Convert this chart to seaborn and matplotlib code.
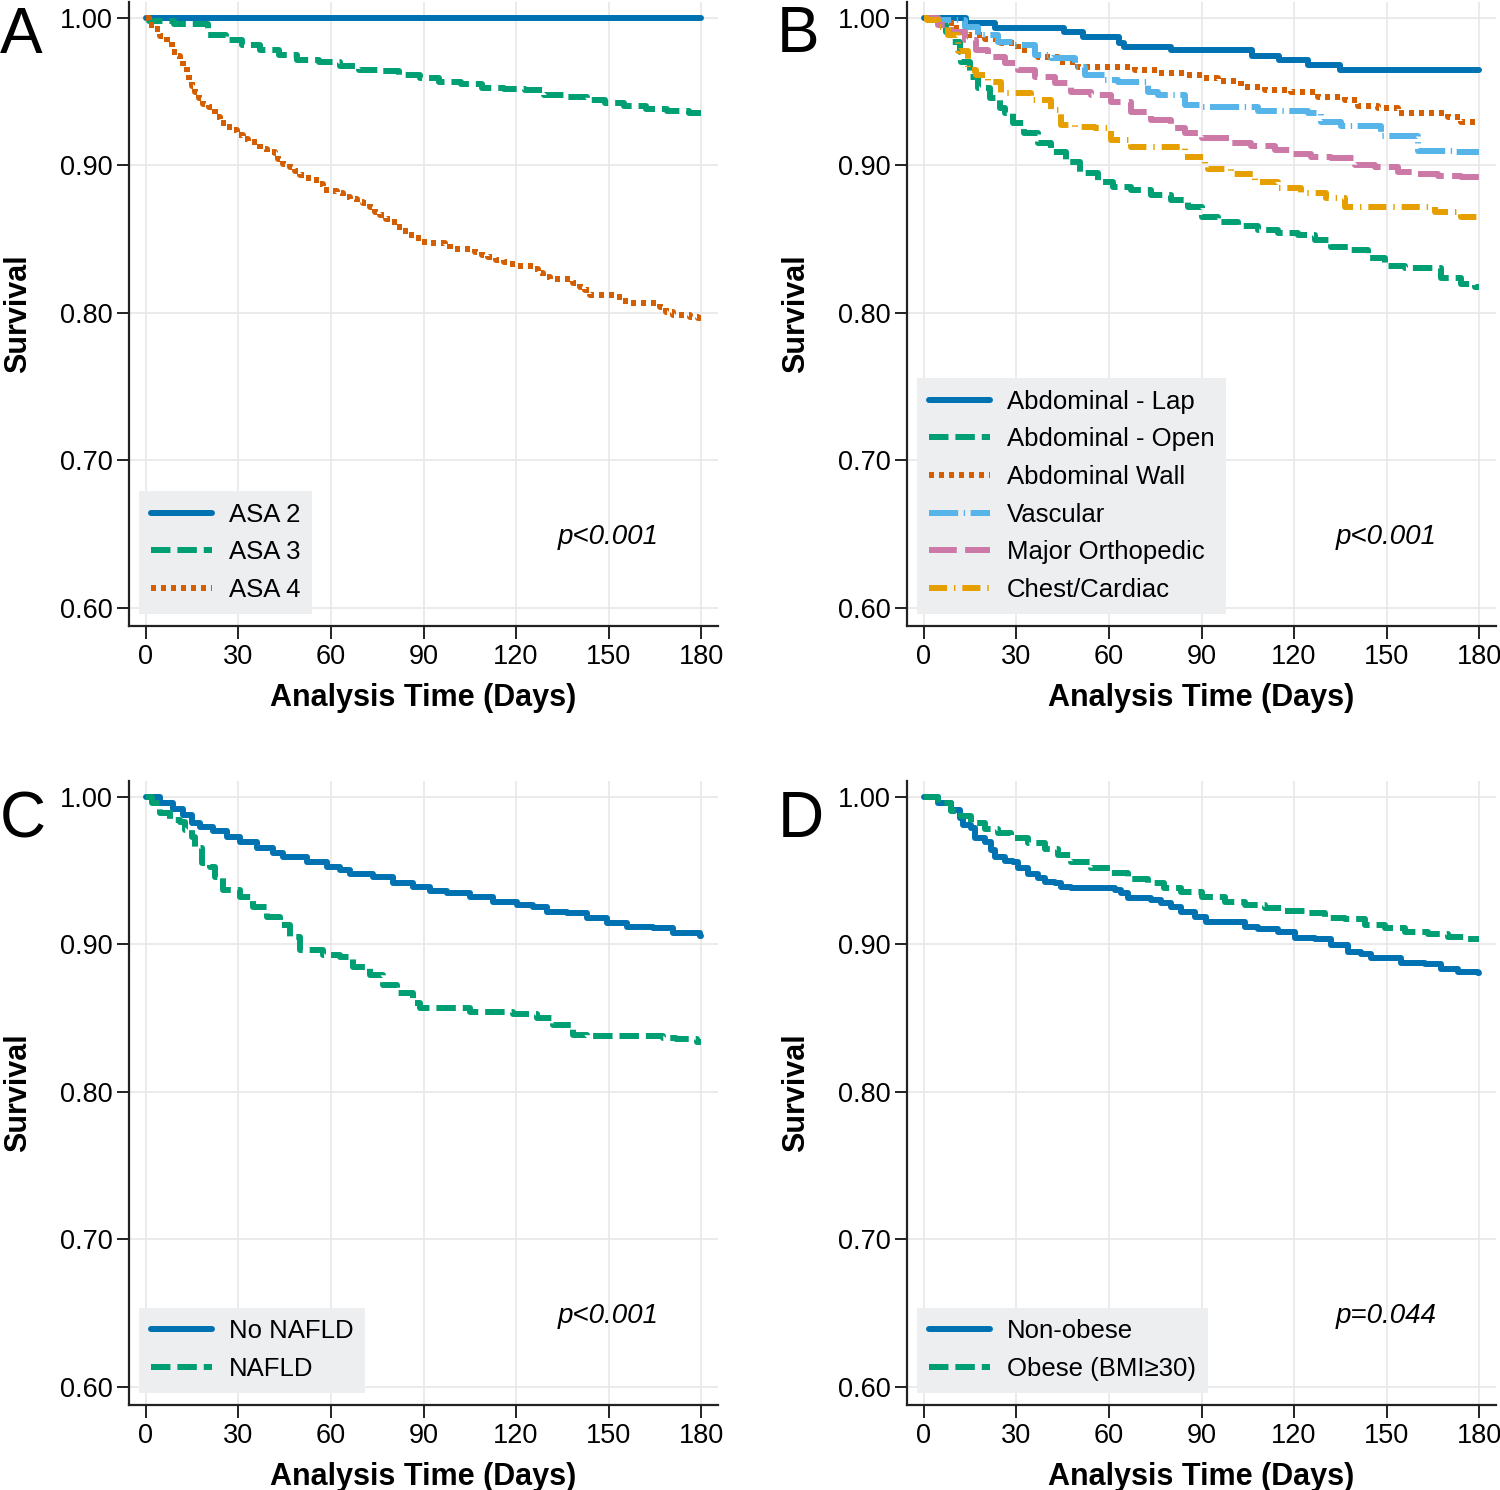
"""Kaplan-Meier survival curves, four panels (A-D)"""

import matplotlib
matplotlib.use("Agg")
import pandas as pd
import seaborn as sns
from matplotlib import pyplot as plt

# ---- data: (day, survival) ----
asa2 = [(0, 1.0), (180, 1.0)]
asa3 = [(0, 1.0), (1, 0.998), (9, 0.996), (20, 0.9885), (26, 0.985), (31, 0.9817), (37, 0.978),
        (43, 0.975), (49, 0.9715), (56, 0.970), (63, 0.9677), (69, 0.9645), (76, 0.964), (82, 0.961),
        (89, 0.959), (95, 0.9568), (102, 0.9553), (109, 0.9525), (116, 0.952), (123, 0.951),
        (129, 0.948), (136, 0.9462), (143, 0.9444), (149, 0.942), (155, 0.940), (162, 0.938),
        (169, 0.937), (176, 0.9358), (180, 0.9355)]
asa4 = [(0, 1.0), (1, 0.995), (3, 0.9925), (4.5, 0.988), (6.7, 0.9835), (8.3, 0.977), (10, 0.9745),
        (11, 0.971), (12, 0.9666), (13.2, 0.9625), (14, 0.958), (15, 0.954), (16, 0.9496),
        (17.3, 0.9456), (18.6, 0.9417), (20.4, 0.9395), (22.4, 0.933), (24, 0.9286), (26.2, 0.926),
        (28.1, 0.924), (29.6, 0.9207), (31.6, 0.918), (33.2, 0.9157), (35.9, 0.9144), (37, 0.911),
        (39.1, 0.9094), (41.8, 0.9083), (42.9, 0.9044), (44.5, 0.901), (46.7, 0.8992), (48.3, 0.8963),
        (50, 0.8936), (51.6, 0.8913), (54.3, 0.890), (56, 0.8875), (57.3, 0.8834), (60.2, 0.8827),
        (62, 0.8811), (64, 0.8784), (66.2, 0.8773), (68.3, 0.8755), (70.5, 0.8744), (72.6, 0.8716),
        (74.3, 0.8687), (76, 0.8664), (77.8, 0.8637), (79.7, 0.8615), (81.3, 0.8585), (83, 0.8556),
        (85, 0.853), (87.2, 0.8506), (89.2, 0.8483), (91.5, 0.8472), (97, 0.8465), (98.6, 0.8434),
        (106.7, 0.8411), (109, 0.8393), (111, 0.8377), (113.5, 0.836), (116, 0.8344), (118, 0.8332),
        (120.2, 0.8319), (125.6, 0.8298), (127.2, 0.827), (128.8, 0.8246), (131, 0.8228),
        (138.6, 0.82), (140.8, 0.8178), (142.4, 0.8156), (144, 0.8122), (152, 0.8106),
        (154.3, 0.8083), (156.4, 0.8065), (166.7, 0.8043), (168.6, 0.8005), (171, 0.7986),
        (176.4, 0.7975), (179.1, 0.7964), (180, 0.7964)]

abd_lap = [(0, 1.0), (13.5, 0.9964), (23, 0.993), (45.5, 0.9907), (51.5, 0.9873), (63.4, 0.9828),
           (65, 0.9806), (80, 0.978), (106.5, 0.9745), (115, 0.9715), (124.5, 0.968),
           (135, 0.9647), (180, 0.9647)]
abd_open = [(0, 1.0), (4.5, 0.9953), (7.2, 0.9907), (8.9, 0.984), (11.6, 0.9772), (12.1, 0.970),
            (14.8, 0.960), (17.5, 0.9523), (21.3, 0.9456), (24.5, 0.939), (26.2, 0.9354),
            (28.9, 0.9286), (32.6, 0.9218), (37, 0.915), (41.3, 0.9094), (46.2, 0.9026),
            (50.5, 0.8947), (56.4, 0.889), (61.3, 0.8856), (67.2, 0.8834), (73.7, 0.88),
            (80.2, 0.8766), (85.6, 0.872), (90, 0.8653), (95.3, 0.862), (101.8, 0.859),
            (108.3, 0.8563), (114.8, 0.8545), (121.3, 0.853), (126.7, 0.8495), (132.1, 0.8445),
            (138.6, 0.8427), (144, 0.837), (149.4, 0.8319), (155.9, 0.8303), (167.8, 0.8235),
            (174.3, 0.8197), (178.6, 0.8178), (180, 0.8178)]
abd_wall = [(0, 1.0), (4.5, 0.9964), (9.9, 0.993), (14.3, 0.9885), (19.7, 0.9855), (25.1, 0.9828),
            (30.5, 0.9783), (37, 0.9738), (43.5, 0.9704), (50, 0.967), (58.6, 0.9666),
            (68.3, 0.9647), (75.9, 0.9625), (84.5, 0.9614), (90, 0.9591), (95.3, 0.9575),
            (102.9, 0.9534), (110.5, 0.9512), (119.1, 0.95), (127.8, 0.9462), (136.4, 0.9444),
            (140.8, 0.9405), (147.2, 0.9388), (153.7, 0.9358), (170, 0.9331), (174.3, 0.9297),
            (178.6, 0.9286), (180, 0.9286)]
vascular = [(0, 1.0), (4.5, 0.9986), (13.2, 0.9941), (17.5, 0.9885), (24, 0.984), (29.4, 0.9817),
            (35.9, 0.9749), (41.3, 0.9727), (48.9, 0.967), (52.1, 0.9614), (58.6, 0.958),
            (63, 0.9568), (72.6, 0.95), (75.9, 0.9478), (84.5, 0.941), (90, 0.9395),
            (108.3, 0.9372), (124.5, 0.9354), (128.9, 0.9297), (135.3, 0.9268), (148.3, 0.92),
            (160.2, 0.91), (172, 0.9094), (180, 0.9094)]
major_ortho = [(0, 1.0), (4.5, 0.9953), (8.9, 0.9907), (13.2, 0.985), (17, 0.9783), (20.7, 0.9738),
               (26.2, 0.9693), (30.5, 0.9647), (35.9, 0.9602), (42.4, 0.9557), (47.8, 0.95),
               (54.3, 0.9478), (60.7, 0.9433), (67.2, 0.9365), (73.7, 0.9308), (80.2, 0.9252),
               (84.5, 0.9222), (90, 0.9184), (99.7, 0.9155), (106.2, 0.9132), (113.7, 0.9105),
               (119.1, 0.9078), (125.6, 0.906), (132, 0.9049), (139.7, 0.9003), (146.2, 0.8988),
               (153.7, 0.8958), (160.2, 0.8942), (166.7, 0.8929), (174.3, 0.892), (180, 0.892)]
chest = [(0, 1.0), (1, 0.9986), (4.5, 0.9941), (7.8, 0.9885), (11, 0.9778), (14.3, 0.9647),
         (17, 0.9614), (20.7, 0.9568), (25.1, 0.9489), (34.8, 0.9444), (41.3, 0.9376),
         (44.5, 0.9275), (48.9, 0.9263), (55.4, 0.9252), (60.7, 0.9173), (67.2, 0.9127),
         (84.5, 0.906), (91, 0.8992), (92, 0.8974), (99.7, 0.8942), (107.2, 0.889),
         (114.8, 0.8845), (122.4, 0.8816), (130.5, 0.8778), (136.4, 0.8717), (165.6, 0.8687),
         (174.3, 0.8653), (180, 0.8653)]

no_nafld = [(0, 1.0), (4.5, 0.9962), (8.9, 0.9919), (12.1, 0.9878), (14.8, 0.9821), (17.5, 0.9794),
            (21.8, 0.9772), (26.2, 0.9731), (30.5, 0.9697), (35.9, 0.9652), (41.3, 0.9623),
            (44.5, 0.9595), (52.1, 0.9561), (58.6, 0.9527), (62.9, 0.9505), (66.2, 0.9478),
            (73.7, 0.9455), (80.2, 0.9415), (86.7, 0.9388), (92, 0.9365), (97.5, 0.9347),
            (105.1, 0.932), (112.6, 0.929), (120.2, 0.9268), (125.6, 0.9256), (130, 0.9223),
            (136.4, 0.9211), (142.9, 0.9177), (149.4, 0.9148), (155.9, 0.9121), (164.5, 0.911),
            (171, 0.9076), (179.7, 0.9058), (180, 0.9058)]
nafld = [(0, 1.0), (1.8, 0.9957), (4.5, 0.989), (7.8, 0.9844), (11, 0.9833), (12.6, 0.9776),
         (14.8, 0.9731), (15.9, 0.9652), (18.1, 0.955), (20.7, 0.9527), (22.4, 0.946),
         (25.1, 0.937), (30.5, 0.9324), (34.8, 0.9256), (39.1, 0.9189), (43.5, 0.9132),
         (46.7, 0.9053), (50, 0.8963), (57.5, 0.8929), (62.9, 0.8917), (67.2, 0.885),
         (72.6, 0.8793), (77, 0.8725), (81.3, 0.8669), (86.7, 0.8601), (89, 0.8572),
         (105, 0.8545), (119, 0.8529), (126.7, 0.85), (132.1, 0.8454), (138.6, 0.8386),
         (143, 0.8381), (167.8, 0.8364), (172, 0.8357), (178.6, 0.8337), (180, 0.8337)]

non_obese = [(0, 1.0), (4.5, 0.9957), (8.9, 0.9912), (11.6, 0.9855), (12.6, 0.981), (15.3, 0.9788),
             (16.4, 0.972), (19.7, 0.9697), (21.8, 0.9641), (22.9, 0.9595), (26.2, 0.9568),
             (28.9, 0.9561), (30.5, 0.9517), (33.7, 0.9478), (37, 0.9449), (39.1, 0.9426),
             (42.4, 0.9419), (44.5, 0.9392), (47.8, 0.9381), (61.8, 0.937), (64, 0.9347),
             (66.2, 0.9313), (73.7, 0.9302), (77, 0.9279), (80.2, 0.9256), (83.4, 0.9223),
             (87.8, 0.9189), (91.6, 0.9155), (104, 0.9121), (108.3, 0.9103), (114.8, 0.9087),
             (120.2, 0.9042), (126.7, 0.9035), (132.1, 0.8997), (137.5, 0.8951), (141.8, 0.8936),
             (145.1, 0.8906), (154.8, 0.8872), (162.4, 0.8868), (167.8, 0.8832), (173.2, 0.8816),
             (179.7, 0.8805), (180, 0.8805)]
obese = [(0, 1.0), (4.5, 0.9957), (8.9, 0.9907), (12.1, 0.9871), (15.3, 0.9821), (19.7, 0.9781),
         (24, 0.9758), (28.3, 0.972), (33.7, 0.9686), (39.1, 0.9645), (43.5, 0.9607),
         (47.8, 0.9561), (54.3, 0.9517), (60.2, 0.9483), (66.2, 0.9442), (72.6, 0.9415),
         (78, 0.9381), (83.4, 0.9358), (90, 0.932), (97.5, 0.929), (104, 0.9268),
         (110.5, 0.9245), (117, 0.9227), (123.5, 0.9211), (129.9, 0.9177), (136.4, 0.9171),
         (142.9, 0.9132), (149.4, 0.911), (155.9, 0.9087), (163.5, 0.9071), (170, 0.9053),
         (176.4, 0.9035), (180, 0.9035)]

p_values = ["p<0.001", "p<0.001", "p<0.001", "p=0.044"]
panel_letters = ["A", "B", "C", "D"]
x_ticks = [0, 30, 60, 90, 120, 150, 180]
y_ticks = [0.60, 0.70, 0.80, 0.90, 1.00]

# ---- styles ----
BLUE, GREEN, VERM = "#0072B2", "#009E73", "#D55E00"
SKY, PINK, ORANGE = "#56B4E9", "#CC79A7", "#E69F00"
SOLID = "-"
DASH = (0, (14, 5))
DOT = (0, (3.6, 3.6))
LONGDASH_DOT = (0, (21, 4, 1, 4))
LONGDASH = (0, (20, 6))
DASH_DOT = (0, (13, 5, 1, 5))

panels = [
    [("ASA 2", asa2, BLUE, SOLID), ("ASA 3", asa3, GREEN, DASH), ("ASA 4", asa4, VERM, DOT)],
    [("Abdominal - Lap", abd_lap, BLUE, SOLID), ("Abdominal - Open", abd_open, GREEN, DASH),
     ("Abdominal Wall", abd_wall, VERM, DOT), ("Vascular", vascular, SKY, LONGDASH_DOT),
     ("Major Orthopedic", major_ortho, PINK, LONGDASH), ("Chest/Cardiac", chest, ORANGE, DASH_DOT)],
    [("No NAFLD", no_nafld, BLUE, SOLID), ("NAFLD", nafld, GREEN, DASH)],
    [("Non-obese", non_obese, BLUE, SOLID), ("Obese (BMI\u226530)", obese, GREEN, DASH)],
]

sns.set_theme(style="ticks")
plt.rcParams["font.family"] = ["Liberation Sans", "DejaVu Sans"]
plt.rcParams["lines.scale_dashes"] = False
for key in ["text.color", "axes.labelcolor", "xtick.labelcolor", "ytick.labelcolor"]:
    plt.rcParams[key] = "black"

fig = plt.figure(figsize=(15, 14.9), dpi=100)
ax_w, ax_h = 589 / 1500, 624 / 1490
positions = [(129 / 1500, 1 - 626 / 1490), (907 / 1500, 1 - 626 / 1490),
             (129 / 1500, 1 - 1405 / 1490), (907 / 1500, 1 - 1405 / 1490)]
letter_pos = [(0.0, 1 - 53 / 1490), (777 / 1500, 1 - 52 / 1490),
              (0.0, 1 - 838 / 1490), (778 / 1500, 1 - 837 / 1490)]

for i, curves in enumerate(panels):
    ax = fig.add_axes([positions[i][0], positions[i][1], ax_w, ax_h])
    for name, pts, color, ls in curves:
        df = pd.DataFrame(pts, columns=["time", "survival"])
        sns.lineplot(data=df, x="time", y="survival", ax=ax, estimator=None,
                     drawstyle="steps-post", color=color, linestyle=ls, lw=4.3,
                     label=name, solid_capstyle="round")

    ax.set_xlim(-5.5, 185.5)
    ax.set_ylim(0.5878, 1.0108)
    ax.set_xticks(x_ticks)
    ax.set_yticks(y_ticks)
    ax.set_yticklabels([f"{v:.2f}" for v in y_ticks])
    ax.grid(True, color="#e6e6e6", lw=1.1)
    ax.set_axisbelow(True)
    sns.despine(ax=ax)
    for side in ["left", "bottom"]:
        ax.spines[side].set_linewidth(1.6)
        ax.spines[side].set_color("#222222")
    ax.tick_params(direction="out", length=9, width=1.4, color="#222222",
                   labelsize=19.5, labelcolor="black")
    ax.tick_params(axis="y", pad=2.5)
    ax.tick_params(axis="x", pad=4)

    ax.set_xlabel("Analysis Time (Days)", fontsize=22, fontweight="bold", color="black")
    ax.set_ylabel("Survival", fontsize=22, fontweight="bold", color="black")
    ax.xaxis.set_label_coords(0.5, -0.091)
    ax.yaxis.set_label_coords(-0.163, 0.5)

    ax.text(150, 0.648, p_values[i], style="italic", fontsize=20, ha="center", va="center",
            color="black")

    leg = ax.legend(loc="lower left", bbox_to_anchor=(0.017, 0.02), borderaxespad=0,
                    fontsize=18.5, handlelength=2.4, handletextpad=0.65, borderpad=0.45,
                    labelspacing=0.53, frameon=True, fancybox=False, framealpha=1)
    leg.get_frame().set_facecolor("#eceef0")
    leg.get_frame().set_edgecolor("none")
    for txt in leg.get_texts():
        txt.set_color("black")

    fig.text(letter_pos[i][0], letter_pos[i][1], panel_letters[i], fontsize=46,
             va="baseline", ha="left", color="black")

plt.savefig("out.png", dpi=100)
plt.close(fig)
